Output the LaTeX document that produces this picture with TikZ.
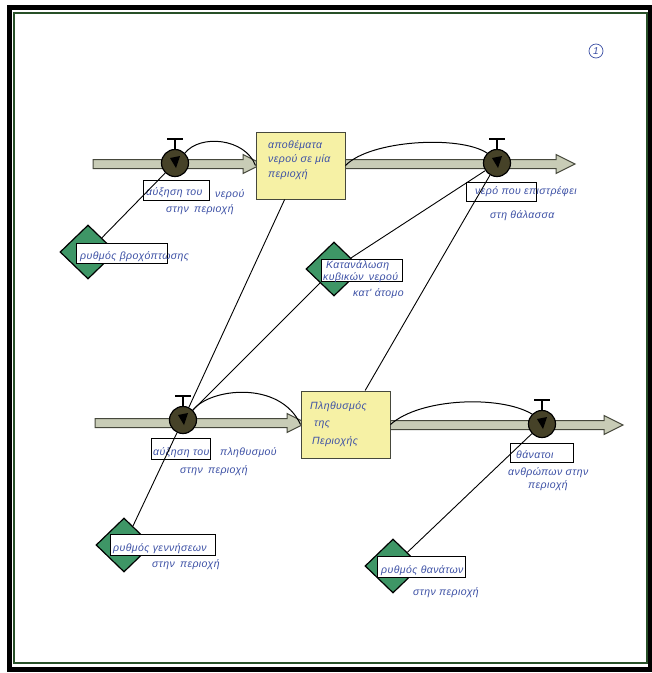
\documentclass[tikz,border=0pt]{standalone}
\usepackage{fontspec}
\setmainfont{Liberation Sans}
\newfontfamily\handfont[LetterSpace=4]{Liberation Sans}
\usetikzlibrary{shapes.geometric}
\definecolor{pipefill}{RGB}{200,204,182}
\definecolor{pipeline}{RGB}{70,72,60}
\definecolor{stockfill}{RGB}{246,241,165}
\definecolor{valvefill}{RGB}{70,66,40}
\definecolor{convfill}{RGB}{62,150,102}
\definecolor{ink}{RGB}{60,80,165}
\definecolor{framegreen}{RGB}{40,80,40}
\tikzset{
 pipe/.style={fill=pipefill, draw=pipeline, line width=1pt, line join=miter},
 stock/.style={rectangle, draw=pipeline, fill=stockfill, line width=1pt, inner sep=0, minimum width=89pt, minimum height=67pt},
 valve/.style={circle, draw=black, fill=valvefill, line width=1.2pt, minimum size=27pt, inner sep=0},
 conv/.style={diamond, draw=black, fill=convfill, line width=1.2pt, minimum width=56pt, minimum height=54pt, inner sep=0},
 lbox/.style={rectangle, draw=black, fill=white, line width=0.9pt, inner sep=0},
 hand/.style={text=ink, font=\handfont\fontsize{10.5}{11}\selectfont\itshape, anchor=base west, inner sep=0},
 link/.style={draw=black, line width=0.9pt},
 infl/.style={draw=black, line width=1pt},
}
\newcommand\flowpipe[3]{%
 \filldraw[pipe] (#1,#3-4.5) -- (#2-19,#3-4.5) -- (#2-19,#3-9.5) -- (#2,#3) -- (#2-19,#3+9.5) -- (#2-19,#3+4.5) -- (#1,#3+4.5) -- cycle;}
\newcommand\valvehandle[1]{%
 \draw[line width=2pt] (#1.north) -- ++(0,-10);
 \draw[line width=2.5pt] (#1.north) ++(-8,-10) -- ++(16,0);
 \fill[black] (#1.center) ++(-5,-5) -- ++(10,-2) -- ++(-4,12) -- cycle;}
\begin{document}
\begin{tikzpicture}[x=1pt,y=-1pt]
\useasboundingbox (0,0) rectangle (652,673);
\fill[white] (0,0) rectangle (652,673);
% frame
\draw[line width=5pt] (9.5,7.5) rectangle (650.5,669);
\draw[framegreen, line width=1.2pt] (14,13) rectangle (647,663);
% pipes
\flowpipe{93}{262}{164}
\flowpipe{345}{575}{164}
\flowpipe{95}{306}{423}
\flowpipe{390}{623}{425}
% stocks
\node[stock] (S1) at (300.5,165.5) {};
\node[stock] (S2) at (345.5,424.5) {};
% valves
\node[valve] (V1) at (175,163) {};
\node[valve] (V2) at (497,163) {};
\node[valve] (V3) at (183,420) {};
\node[valve] (V4) at (542,424) {};
\valvehandle{V1}\valvehandle{V2}\valvehandle{V3}\valvehandle{V4}
% converters
\node[conv] (D1) at (88,252) {};
\node[conv] (D2) at (334,269) {};
\node[conv] (D3) at (124,545) {};
\node[conv] (D4) at (393,566) {};
% label boxes
\node[lbox, minimum width=66pt, minimum height=20pt] (L1) at (176,190.5) {};
\node[lbox, minimum width=70pt, minimum height=19pt] (L2) at (501,191.5) {};
\node[lbox, minimum width=91pt, minimum height=20pt] (L3) at (121.5,253) {};
\node[lbox, minimum width=81pt, minimum height=22pt] (L4) at (361.5,270) {};
\node[lbox, minimum width=59pt, minimum height=21pt] (L5) at (180.5,449) {};
\node[lbox, minimum width=63pt, minimum height=19pt] (L6) at (541.5,452.5) {};
\node[lbox, minimum width=105pt, minimum height=21pt] (L7) at (162.5,544.5) {};
\node[lbox, minimum width=88pt, minimum height=21pt] (L8) at (421,566.5) {};
% texts
\node[hand] (t1a) at (146,195) {αύξηση του};
\node[hand] (t1b) at (215,197) {νερού};
\node[hand] (t1c) at (166,212) {στην\enspace περιοχή};
\node[hand] (t2a) at (475,194) {νερό που επιστρέφει};
\node[hand] (t2b) at (490,218) {στη θάλασσα};
\node[hand] (t3) at (80,259) {ρυθμός βροχόπτωσης};
\node[hand] (t4a) at (326,268) {Κατανάλωση};
\node[hand] (t4b) at (323,280) {κυβικών\enspace νερού};
\node[hand] (t4c) at (353,296) {κατ' άτομο};
\node[hand] (s1a) at (268,148) {αποθέματα};
\node[hand] (s1b) at (268,162) {νερού σε μία};
\node[hand] (s1c) at (268,177) {περιοχή};
\node[hand] (s2a) at (310,409) {Πληθυσμός};
\node[hand] (s2b) at (314,426) {της};
\node[hand] (s2c) at (312,444) {Περιοχής};
\node[hand] (t5a) at (153,455) {αύξηση του};
\node[hand] (t5b) at (220,455) {πληθυσμού};
\node[hand] (t5c) at (180,473) {στην\enspace περιοχή};
\node[hand] (t6a) at (516,458) {θάνατοι};
\node[hand] (t6b) at (508,475) {ανθρώπων στην};
\node[hand] (t6c) at (528,488) {περιοχή};
\node[hand] (t7a) at (113,551) {ρυθμός γεννήσεων};
\node[hand] (t7b) at (152,567) {στην\enspace περιοχή};
\node[hand] (t8a) at (381,573) {ρυθμός θανάτων};
\node[hand] (t8b) at (413,595) {στην περιοχή};
\node[circle, draw=ink, line width=0.7pt, inner sep=1.5pt, minimum size=14pt, text=ink, font=\fontsize{10}{10}\selectfont\itshape] (num) at (596,51) {1};
% influence arcs
\draw[infl] (V1.north east) .. controls (200,134) and (245,138) .. (S1.west);
\draw[infl] (S1.east) .. controls (370,140) and (460,135) .. (V2.north west);
\draw[infl] (V3.north east) .. controls (210,388) and (280,380) .. (S2.west);
\draw[infl] (S2.east) .. controls (420,398) and (500,395) .. (V4.north west);
% links
\draw[link] (D1) -- (V1);
\draw[link] (S1.245) -- (V3);
\draw[link] (D2) -- (V3);
\draw[link] (D2) -- (V2);
\draw[link] (S2.60) -- (V2);
\draw[link] (D3) -- (V3);
\draw[link] (D4) -- (V4);
\end{tikzpicture}
\end{document}
